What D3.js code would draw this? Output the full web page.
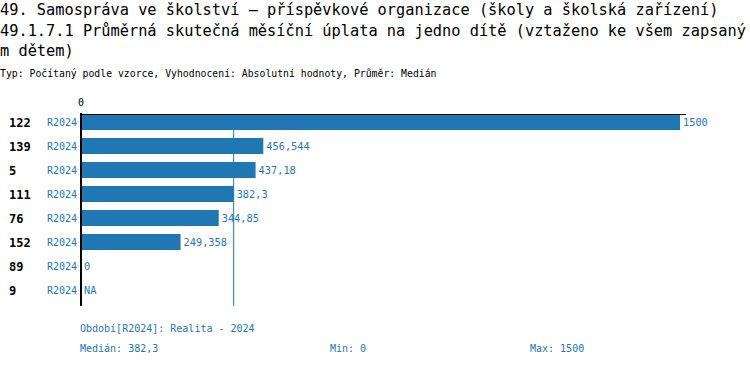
<!DOCTYPE html>
<html><head><meta charset="utf-8">
<script src="https://cdn.jsdelivr.net/npm/d3@7"></script>
<style>body{margin:0;background:#fff}svg{display:block}</style>
</head><body>
<script>
const titleLines = [
  "49. Samospráva ve školství – příspěvkové organizace (školy a školská zařízení)",
  "49.1.7.1 Průměrná skutečná měsíční úplata na jedno dítě (vztaženo ke všem zapsaný",
  "m dětem)"
];
const subtitle = "Typ: Počítaný podle vzorce, Vyhodnocení: Absolutní hodnoty, Průměr: Medián";
const categories = ["122","139","5","111","76","152","89","9"];
const periods = ["R2024","R2024","R2024","R2024","R2024","R2024","R2024","R2024"];
const values = [1500, 456.544, 437.18, 382.3, 344.85, 249.358, 0, null];
const valueLabels = ["1500","456,544","437,18","382,3","344,85","249,358","0","NA"];
const medianValue = 382.3;
const footerPeriod = "Období[R2024]: Realita - 2024";
const footerStats = ["Medián: 382,3","Min: 0","Max: 1500"];

const W = 750, H = 366;
const blue = "#1f77b4";
const mono = "'DejaVu Sans Mono', monospace";
const svg = d3.select("body").append("svg").attr("width", W).attr("height", H);

svg.selectAll("text.title").data(titleLines).join("text")
  .attr("x", 0).attr("y", (d,i) => 15 + i*20.5)
  .attr("font-family", mono).attr("font-size", 15.3).attr("fill", "#000")
  .text(d => d);
svg.append("text").attr("x", 0).attr("y", 77)
  .attr("font-family", mono).attr("font-size", 9.8).attr("fill", "#000").text(subtitle);

const x = d3.scaleLinear().domain([0, 1500]).range([81, 680]);
const y = d3.scaleBand().domain(categories).range([110, 302]).paddingInner(1/3).paddingOuter(1/6);

// median line
svg.append("line").attr("x1", x(medianValue)).attr("x2", x(medianValue))
  .attr("y1", 114).attr("y2", 306).attr("stroke", blue).attr("stroke-width", 1);

const rows = categories.map((c,i) => ({c, p: periods[i], v: values[i], l: valueLabels[i]}));

svg.selectAll("rect.bar").data(rows.filter(d => d.v != null && d.v > 0)).join("rect")
  .attr("x", x(0)).attr("y", d => y(d.c))
  .attr("width", d => x(d.v) - x(0)).attr("height", y.bandwidth())
  .attr("fill", blue);

svg.selectAll("text.cat").data(rows).join("text")
  .attr("x", 9).attr("y", d => y(d.c) + y.bandwidth()/2 + 4.5)
  .attr("font-family", mono).attr("font-weight", "bold").attr("font-size", 12)
  .attr("fill", "#000").text(d => d.c);

svg.selectAll("text.per").data(rows).join("text")
  .attr("x", 77).attr("y", d => y(d.c) + y.bandwidth()/2 + 4)
  .attr("text-anchor", "end")
  .attr("font-family", mono).attr("font-size", 10).attr("fill", blue).text(d => d.p);

svg.selectAll("text.val").data(rows).join("text")
  .attr("x", d => x(d.v || 0) + 3).attr("y", d => y(d.c) + y.bandwidth()/2 + 4)
  .attr("font-family", mono).attr("font-size", 10.3).attr("fill", blue).text(d => d.l);

// axes
svg.append("line").attr("x1", 80).attr("x2", 686).attr("y1", 114.5).attr("y2", 114.5)
  .attr("stroke", "#000").attr("stroke-width", 1);
svg.append("line").attr("x1", 81).attr("x2", 81).attr("y1", 113).attr("y2", 306)
  .attr("stroke", "#000").attr("stroke-width", 2);
svg.append("text").attr("x", x(0)).attr("y", 106).attr("text-anchor", "middle")
  .attr("font-family", mono).attr("font-size", 10).attr("fill", "#000").text("0");

// footer
svg.append("text").attr("x", 80).attr("y", 332)
  .attr("font-family", mono).attr("font-size", 10).attr("fill", blue).text(footerPeriod);
const fx = [80, 330, 530];
svg.selectAll("text.stat").data(footerStats).join("text")
  .attr("x", (d,i) => fx[i]).attr("y", 352)
  .attr("font-family", mono).attr("font-size", 10).attr("fill", blue).text(d => d);
</script>
</body></html>
